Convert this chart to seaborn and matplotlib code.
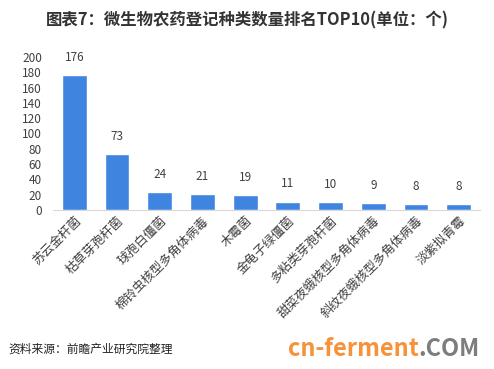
import matplotlib
matplotlib.use("Agg")
import matplotlib.pyplot as plt
import seaborn as sns
import pandas as pd

categories = ["苏云金杆菌", "枯草芽孢杆菌", "球孢白僵菌", "棉铃虫核型多角体病毒", "木霉菌",
              "金龟子绿僵菌", "多粘类芽孢杆菌", "甜菜夜蛾核型多角体病毒",
              "斜纹夜蛾核型多角体病毒", "淡紫拟青霉"]
values = [176, 73, 24, 21, 19, 11, 10, 9, 8, 8]
yticks = list(range(0, 201, 20))

sns.set_theme(style="white")
plt.rcParams['font.family'] = ['Noto Sans CJK SC', 'DejaVu Sans']

df = pd.DataFrame({"cat": categories, "val": values})
fig = plt.figure(figsize=(4.94, 3.69), dpi=100)
ax = fig.add_axes([53/494, 1 - 210/369, 427/494, 153/369])
sns.barplot(data=df, x="cat", y="val", color="#3F85E0", width=0.58, ax=ax, saturation=1)

ax.set_ylim(0, 200)
ax.set_yticks(yticks)
ax.set_yticklabels([str(t) for t in yticks], fontsize=8.5, color="#404040")
ax.tick_params(axis='y', length=0, pad=8)
ax.tick_params(axis='x', length=0, pad=3)
ax.set_xticks(range(len(categories)))
ax.set_xticklabels(categories, rotation=45, ha="right", rotation_mode="anchor",
                   fontsize=9, color="#404040")
ax.set_xlim(-0.5, len(categories) - 0.5)
ax.set_xlabel("")
ax.set_ylabel("")
for s in ["top", "right", "left"]:
    ax.spines[s].set_visible(False)
ax.spines["bottom"].set_color("#d9d9d9")
ax.spines["bottom"].set_linewidth(0.8)

for i, v in enumerate(values):
    ax.annotate(str(v), (i, v), xytext=(0, 8), textcoords="offset points",
                ha="center", va="bottom", fontsize=8.5, color="#404040")

fig.text(0.5, 1 - 20/369, "图表7：微生物农药登记种类数量排名TOP10(单位：个)", ha="center", va="center",
         fontsize=11.8, fontweight="bold", color="#333333")
fig.text(8/494, 1 - 349/369, "资料来源：前瞻产业研究院整理", ha="left", va="center",
         fontsize=8.5, color="#222222")
fig.text(288/494, 1 - 349/369, "cn-ferment", ha="left", va="center",
         fontsize=17, fontweight="bold", color="#F7923A")
fig.text(418/494, 1 - 349/369, ".COM", ha="left", va="center",
         fontsize=17, fontweight="bold", color="#666666", alpha=0.85)

fig.savefig("out.png", dpi=100)
